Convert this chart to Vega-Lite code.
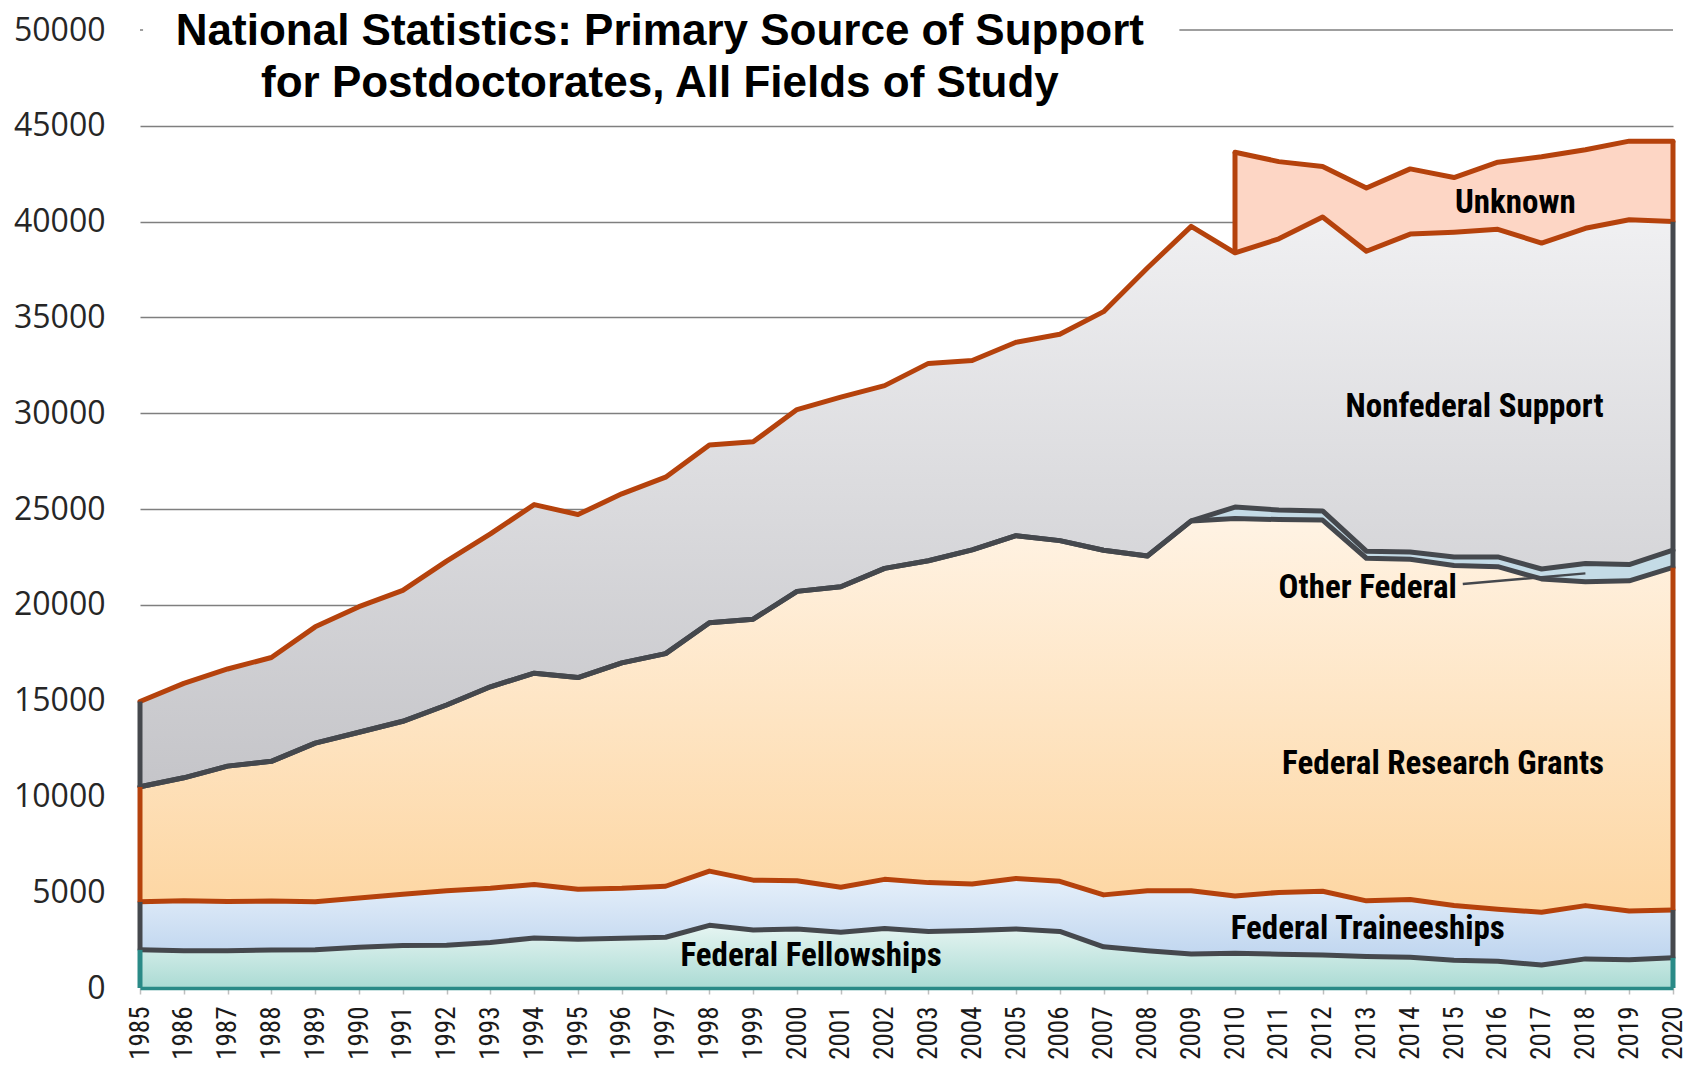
{
  "$schema": "https://vega.github.io/schema/vega-lite/v6.json",
  "width": 1533,
  "height": 958,
  "autosize": {"type": "none"},
  "padding": {"left": 140, "top": 30, "right": 18, "bottom": 79},
  "background": "white",
  "config": {"view": {"stroke": null}},
  "datasets": {
    "support": [
      {"year": 1985, "Federal Fellowships": 2000, "Federal Traineeships": 2500, "Federal Research Grants": 6000, "Other Federal": 0, "Nonfederal Support": 4450},
      {"year": 1986, "Federal Fellowships": 1950, "Federal Traineeships": 2610, "Federal Research Grants": 6410, "Other Federal": 0, "Nonfederal Support": 4930},
      {"year": 1987, "Federal Fellowships": 1950, "Federal Traineeships": 2570, "Federal Research Grants": 7060, "Other Federal": 0, "Nonfederal Support": 5070},
      {"year": 1988, "Federal Fellowships": 1980, "Federal Traineeships": 2560, "Federal Research Grants": 7290, "Other Federal": 0, "Nonfederal Support": 5420},
      {"year": 1989, "Federal Fellowships": 2000, "Federal Traineeships": 2500, "Federal Research Grants": 8280, "Other Federal": 0, "Nonfederal Support": 6070},
      {"year": 1990, "Federal Fellowships": 2130, "Federal Traineeships": 2570, "Federal Research Grants": 8650, "Other Federal": 0, "Nonfederal Support": 6550},
      {"year": 1991, "Federal Fellowships": 2220, "Federal Traineeships": 2670, "Federal Research Grants": 9030, "Other Federal": 0, "Nonfederal Support": 6830},
      {"year": 1992, "Federal Fellowships": 2230, "Federal Traineeships": 2850, "Federal Research Grants": 9690, "Other Federal": 0, "Nonfederal Support": 7510},
      {"year": 1993, "Federal Fellowships": 2380, "Federal Traineeships": 2830, "Federal Research Grants": 10510, "Other Federal": 0, "Nonfederal Support": 7980},
      {"year": 1994, "Federal Fellowships": 2610, "Federal Traineeships": 2790, "Federal Research Grants": 11030, "Other Federal": 0, "Nonfederal Support": 8800},
      {"year": 1995, "Federal Fellowships": 2550, "Federal Traineeships": 2600, "Federal Research Grants": 11050, "Other Federal": 0, "Nonfederal Support": 8510},
      {"year": 1996, "Federal Fellowships": 2600, "Federal Traineeships": 2600, "Federal Research Grants": 11770, "Other Federal": 0, "Nonfederal Support": 8820},
      {"year": 1997, "Federal Fellowships": 2650, "Federal Traineeships": 2660, "Federal Research Grants": 12140, "Other Federal": 0, "Nonfederal Support": 9210},
      {"year": 1998, "Federal Fellowships": 3270, "Federal Traineeships": 2830, "Federal Research Grants": 12960, "Other Federal": 0, "Nonfederal Support": 9280},
      {"year": 1999, "Federal Fellowships": 3030, "Federal Traineeships": 2600, "Federal Research Grants": 13620, "Other Federal": 0, "Nonfederal Support": 9260},
      {"year": 2000, "Federal Fellowships": 3080, "Federal Traineeships": 2520, "Federal Research Grants": 15100, "Other Federal": 0, "Nonfederal Support": 9490},
      {"year": 2001, "Federal Fellowships": 2910, "Federal Traineeships": 2350, "Federal Research Grants": 15680, "Other Federal": 0, "Nonfederal Support": 9900},
      {"year": 2002, "Federal Fellowships": 3100, "Federal Traineeships": 2570, "Federal Research Grants": 16230, "Other Federal": 0, "Nonfederal Support": 9540},
      {"year": 2003, "Federal Fellowships": 2950, "Federal Traineeships": 2550, "Federal Research Grants": 16800, "Other Federal": 0, "Nonfederal Support": 10300},
      {"year": 2004, "Federal Fellowships": 3000, "Federal Traineeships": 2430, "Federal Research Grants": 17440, "Other Federal": 0, "Nonfederal Support": 9880},
      {"year": 2005, "Federal Fellowships": 3080, "Federal Traineeships": 2640, "Federal Research Grants": 17890, "Other Federal": 0, "Nonfederal Support": 10090},
      {"year": 2006, "Federal Fellowships": 2950, "Federal Traineeships": 2620, "Federal Research Grants": 17780, "Other Federal": 0, "Nonfederal Support": 10770},
      {"year": 2007, "Federal Fellowships": 2150, "Federal Traineeships": 2710, "Federal Research Grants": 17990, "Other Federal": 0, "Nonfederal Support": 12450},
      {"year": 2008, "Federal Fellowships": 1950, "Federal Traineeships": 3120, "Federal Research Grants": 17480, "Other Federal": 0, "Nonfederal Support": 15030},
      {"year": 2009, "Federal Fellowships": 1780, "Federal Traineeships": 3300, "Federal Research Grants": 19300, "Other Federal": 0, "Nonfederal Support": 15370},
      {"year": 2010, "Federal Fellowships": 1820, "Federal Traineeships": 2980, "Federal Research Grants": 19700, "Other Federal": 600, "Nonfederal Support": 13270, "Unknown": 5250},
      {"year": 2011, "Federal Fellowships": 1760, "Federal Traineeships": 3230, "Federal Research Grants": 19460, "Other Federal": 500, "Nonfederal Support": 14150, "Unknown": 4030},
      {"year": 2012, "Federal Fellowships": 1720, "Federal Traineeships": 3330, "Federal Research Grants": 19370, "Other Federal": 480, "Nonfederal Support": 15340, "Unknown": 2640},
      {"year": 2013, "Federal Fellowships": 1650, "Federal Traineeships": 2900, "Federal Research Grants": 17880, "Other Federal": 370, "Nonfederal Support": 15650, "Unknown": 3300},
      {"year": 2014, "Federal Fellowships": 1600, "Federal Traineeships": 3020, "Federal Research Grants": 17760, "Other Federal": 370, "Nonfederal Support": 16600, "Unknown": 3400},
      {"year": 2015, "Federal Fellowships": 1450, "Federal Traineeships": 2860, "Federal Research Grants": 17740, "Other Federal": 450, "Nonfederal Support": 16950, "Unknown": 2850},
      {"year": 2016, "Federal Fellowships": 1400, "Federal Traineeships": 2710, "Federal Research Grants": 17880, "Other Federal": 510, "Nonfederal Support": 17100, "Unknown": 3500},
      {"year": 2017, "Federal Fellowships": 1200, "Federal Traineeships": 2750, "Federal Research Grants": 17400, "Other Federal": 520, "Nonfederal Support": 17010, "Unknown": 4500},
      {"year": 2018, "Federal Fellowships": 1520, "Federal Traineeships": 2780, "Federal Research Grants": 16900, "Other Federal": 950, "Nonfederal Support": 17500, "Unknown": 4100},
      {"year": 2019, "Federal Fellowships": 1480, "Federal Traineeships": 2540, "Federal Research Grants": 17230, "Other Federal": 850, "Nonfederal Support": 18000, "Unknown": 4100},
      {"year": 2020, "Federal Fellowships": 1580, "Federal Traineeships": 2490, "Federal Research Grants": 17880, "Other Federal": 900, "Nonfederal Support": 17150, "Unknown": 4200}
    ],
    "labels": [
      {"label": "Unknown", "x": 2016.4, "y": 40960},
      {"label": "Nonfederal Support", "x": 2015.47, "y": 30330},
      {"label": "Other Federal", "x": 2013.03, "y": 20860},
      {"label": "Federal Research Grants", "x": 2014.75, "y": 11680},
      {"label": "Federal Traineeships", "x": 2013.03, "y": 3060},
      {"label": "Federal Fellowships", "x": 2000.32, "y": 1650}
    ],
    "leader": [
      {"x": 2015.2, "x2": 2018.0, "y": 21085, "y2": 21640}
    ],
    "topgrid": [
      {"x": 1985, "x2": 1985.07, "y": 50000},
      {"x": 2008.73, "x2": 2020, "y": 50000}
    ],
    "title": [
      {"text": ["National Statistics: Primary Source of Support", "for Postdoctorates, All Fields of Study"], "x": 1996.87, "y": 49217}
    ]
  },
  "layer": [
    {
      "data": {"name": "support"},
      "transform": [
        {"fold": ["Federal Fellowships", "Federal Traineeships", "Federal Research Grants", "Other Federal", "Nonfederal Support", "Unknown"], "as": ["series", "value"]},
        {"filter": "isValid(datum.value)"},
        {"stack": "value", "groupby": ["year"], "as": ["y0", "y1"]}
      ],
      "layer": [
        {
          "transform": [{"filter": "datum.series === 'Federal Fellowships'"}],
          "mark": {"type": "area", "fill": {"gradient": "linear", "x1": 0, "y1": 0, "x2": 0, "y2": 1, "stops": [{"offset": 0, "color": "#e6f5f2"}, {"offset": 1, "color": "#abdbd4"}]}},
          "encoding": {
            "x": {"field": "year", "type": "quantitative", "scale": {"domain": [1985, 2020], "nice": false, "zero": false},
              "axis": {"values": [1985,1986,1987,1988,1989,1990,1991,1992,1993,1994,1995,1996,1997,1998,1999,2000,2001,2002,2003,2004,2005,2006,2007,2008,2009,2010,2011,2012,2013,2014,2015,2016,2017,2018,2019,2020],
                "format": "d", "title": null, "grid": false, "labelAngle": 270, "labelFont": "Roboto Condensed, DejaVu Sans Condensed, Arial Narrow, Liberation Sans", "labelFontSize": 27, "labelColor": "#1a1a1a",
                "tickColor": "#bfbfbf", "tickSize": 6, "tickWidth": 1.5, "labelPadding": 12, "domainColor": "#2a8a87", "domainWidth": 3.5, "zindex": 1, "labelOverlap": false, "labelFlush": false}},
            "y": {"field": "y1", "type": "quantitative", "scale": {"domain": [0, 50000], "nice": false},
              "axis": {"values": [0,5000,10000,15000,20000,25000,30000,35000,40000,45000,50000], "format": "d", "title": null,
                "labelFont": "Open Sans", "labelFontSize": 32, "labelColor": "#262626", "labelPadding": 35, "ticks": false, "tickSize": 0, "domain": false,
                "grid": true, "gridColor": "#7f7f7f", "gridWidth": 1.5, "gridOpacity": {"condition": {"test": "datum.value == 50000", "value": 0}, "value": 1}, "labelOverlap": false, "labelFlush": false}},
            "y2": {"field": "y0"}
          }
        },
        {
          "transform": [{"filter": "datum.series === 'Federal Traineeships'"}],
          "mark": {"type": "area", "fill": {"gradient": "linear", "x1": 0, "y1": 0, "x2": 0, "y2": 1, "stops": [{"offset": 0, "color": "#e9f2fb"}, {"offset": 1, "color": "#bcd3ee"}]}},
          "encoding": {"x": {"field": "year", "type": "quantitative", "title": null}, "y": {"field": "y1", "type": "quantitative", "title": null}, "y2": {"field": "y0"}}
        },
        {
          "transform": [{"filter": "datum.series === 'Federal Research Grants'"}],
          "mark": {"type": "area", "fill": {"gradient": "linear", "x1": 0, "y1": 0, "x2": 0, "y2": 1, "stops": [{"offset": 0, "color": "#fff3e4"}, {"offset": 1, "color": "#fdd6a2"}]}},
          "encoding": {"x": {"field": "year", "type": "quantitative", "title": null}, "y": {"field": "y1", "type": "quantitative", "title": null}, "y2": {"field": "y0"}}
        },
        {
          "transform": [{"filter": "datum.series === 'Other Federal'"}],
          "mark": {"type": "area", "fill": "#c4dbe6"},
          "encoding": {"x": {"field": "year", "type": "quantitative", "title": null}, "y": {"field": "y1", "type": "quantitative", "title": null}, "y2": {"field": "y0"}}
        },
        {
          "transform": [{"filter": "datum.series === 'Nonfederal Support'"}],
          "mark": {"type": "area", "fill": {"gradient": "linear", "x1": 0, "y1": 0, "x2": 0, "y2": 1, "stops": [{"offset": 0, "color": "#f0f0f2"}, {"offset": 1, "color": "#c5c5c9"}]}},
          "encoding": {"x": {"field": "year", "type": "quantitative", "title": null}, "y": {"field": "y1", "type": "quantitative", "title": null}, "y2": {"field": "y0"}}
        },
        {
          "transform": [{"filter": "datum.series === 'Unknown'"}],
          "mark": {"type": "area", "fill": "#fdd6c5"},
          "encoding": {"x": {"field": "year", "type": "quantitative", "title": null}, "y": {"field": "y1", "type": "quantitative", "title": null}, "y2": {"field": "y0"}}
        },
        {
          "mark": {"type": "line", "strokeWidth": 5, "strokeJoin": "round", "strokeCap": "round"},
          "encoding": {
            "x": {"field": "year", "type": "quantitative", "title": null},
            "y": {"field": "y1", "type": "quantitative", "title": null},
            "detail": {"field": "series"},
            "color": {"field": "series", "type": "nominal", "legend": null,
              "scale": {"domain": ["Federal Fellowships", "Federal Traineeships", "Federal Research Grants", "Other Federal", "Nonfederal Support", "Unknown"],
                "range": ["#45484d", "#b5420c", "#45484d", "#45484d", "#b5420c", "#b5420c"]}}
          }
        },
        {
          "transform": [{"filter": "datum.year == 1985 || datum.year == 2020 || (datum.series === 'Unknown' && datum.year == 2010)"}],
          "mark": {"type": "rule", "strokeWidth": 5},
          "encoding": {
            "x": {"field": "year", "type": "quantitative", "title": null},
            "y": {"field": "y0", "type": "quantitative", "title": null},
            "y2": {"field": "y1"},
            "stroke": {"field": "series", "type": "nominal", "legend": null,
              "scale": {"domain": ["Federal Fellowships", "Federal Traineeships", "Federal Research Grants", "Other Federal", "Nonfederal Support", "Unknown"],
                "range": ["#2a8a87", "#45484d", "#b5420c", "#45484d", "#45484d", "#b5420c"]}}
          }
        }
      ]
    },
    {
      "data": {"name": "topgrid"},
      "mark": {"type": "rule", "color": "#7f7f7f", "strokeWidth": 1.5},
      "encoding": {
        "x": {"field": "x", "type": "quantitative", "title": null},
        "x2": {"field": "x2"},
        "y": {"field": "y", "type": "quantitative", "title": null}
      }
    },
    {
      "data": {"name": "leader"},
      "mark": {"type": "rule", "color": "#45484d", "strokeWidth": 2.5},
      "encoding": {
        "x": {"field": "x", "type": "quantitative", "title": null},
        "x2": {"field": "x2"},
        "y": {"field": "y", "type": "quantitative", "title": null},
        "y2": {"field": "y2"}
      }
    },
    {
      "data": {"name": "labels"},
      "mark": {"type": "text", "font": "Roboto Condensed, DejaVu Sans Condensed, Arial Narrow, Liberation Sans", "fontWeight": "bold", "fontSize": 33, "color": "#000000", "align": "center", "baseline": "middle"},
      "encoding": {
        "x": {"field": "x", "type": "quantitative", "title": null},
        "y": {"field": "y", "type": "quantitative", "title": null},
        "text": {"field": "label"}
      }
    },
    {
      "data": {"name": "title"},
      "mark": {"type": "text", "font": "Liberation Sans", "fontWeight": "bold", "fontSize": 44, "color": "#000000", "align": "center", "baseline": "alphabetic", "lineHeight": 52},
      "encoding": {
        "x": {"field": "x", "type": "quantitative", "title": null},
        "y": {"field": "y", "type": "quantitative", "title": null},
        "text": {"field": "text"}
      }
    }
  ]
}
